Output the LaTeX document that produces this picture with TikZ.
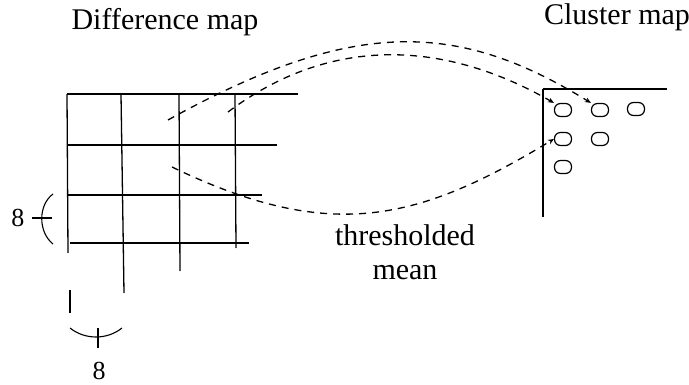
\documentclass[tikz,border=0pt]{standalone}
\usepackage{fontspec}
\setmainfont{Liberation Serif}
\usepackage{tikz}
\usetikzlibrary{
    arrows.meta,
    positioning,
    calc
}

\begin{document}
\begin{tikzpicture}[
    x=1pt,
    y=-1pt,
    >={Stealth[length=6pt,width=5pt]},
    gridline/.style={
        black,
        line width=1.3pt
    },
    linkpath/.style={
        ->,
        black,
        line width=1.3pt,
        dash pattern=on 7pt off 6pt
    },
    clusterdot/.style={
        draw,
        line width=1.2pt,
        rounded corners=6pt,
        minimum width=17pt,
        minimum height=13pt,
        inner sep=0pt
    },
    maptitle/.style={
        font=\fontsize{30}{34}\selectfont,
        anchor=base,
        inner sep=0pt
    },
    sizelabel/.style={
        font=\fontsize{26}{28}\selectfont,
        inner sep=0pt
    }
]

\useasboundingbox (0,0) rectangle (689,385);

% =============================================================
% Difference map: 8x8 blocks
% =============================================================

\node[maptitle] (difftitle) at (165,30) {Difference map};

% Horizontal grid lines
\draw[gridline] (67,94) -- (298,94);
\draw[gridline] (67,145) -- (277,145);
\draw[gridline] (68,195) -- (262,195);
\draw[gridline] (70,243) -- (249,243);

% Vertical grid lines
\draw[gridline] (67,94) -- (68,253);
\draw[gridline] (70,290) -- (70,313);
\draw[gridline] (121,94) -- (124,293);
\draw[gridline] (179,94) -- (180,271);
\draw[gridline] (235,94) -- (236,248);

% Block size, vertical
\draw[gridline, line width=1.1pt]
    (53,194) .. controls (38,205) and (38,232) .. (53,244);
\draw[gridline, line width=1.1pt] (32,218) -- (52,218);
\node[sizelabel] (sizeleft) at (18,218) {8};

% Block size, horizontal
\draw[gridline, line width=1.1pt]
    (70,328) .. controls (85,340) and (107,340) .. (122,328);
\draw[gridline, line width=1.1pt] (98,328) -- (98,348);
\node[sizelabel] (sizebottom) at (99,371) {8};

% Start points of the links
\coordinate (blockA) at (168,120);
\coordinate (blockB) at (228,112);
\coordinate (blockC) at (172,167);

% =============================================================
% Cluster map
% =============================================================

\node[maptitle] (clustertitle) at (617,25) {Cluster map};

\draw[gridline] (543,89) -- (667,89);
\draw[gridline] (543,89) -- (543,217);

\node[clusterdot] (c11) at (563,110) {};
\node[clusterdot] (c12) at (600,110) {};
\node[clusterdot] (c13) at (636,109) {};
\node[clusterdot] (c21) at (563,139) {};
\node[clusterdot] (c22) at (600,139) {};
\node[clusterdot] (c31) at (563,167) {};

% =============================================================
% Links from blocks to clusters
% =============================================================

\draw[linkpath]
    (blockA) .. controls (354,17) and (458,21) .. (c12.north west);

\draw[linkpath]
    (blockB) .. controls (332,34) and (446,41) .. (c11.north west);

\draw[linkpath]
    (blockC) .. controls (330,243) and (417,222) .. (c21.west);

\node[
    font=\fontsize{30}{34}\selectfont,
    align=center,
    inner sep=0pt
] (meanlabel) at (405,252)
{thresholded\\mean};

\end{tikzpicture}
\end{document}
